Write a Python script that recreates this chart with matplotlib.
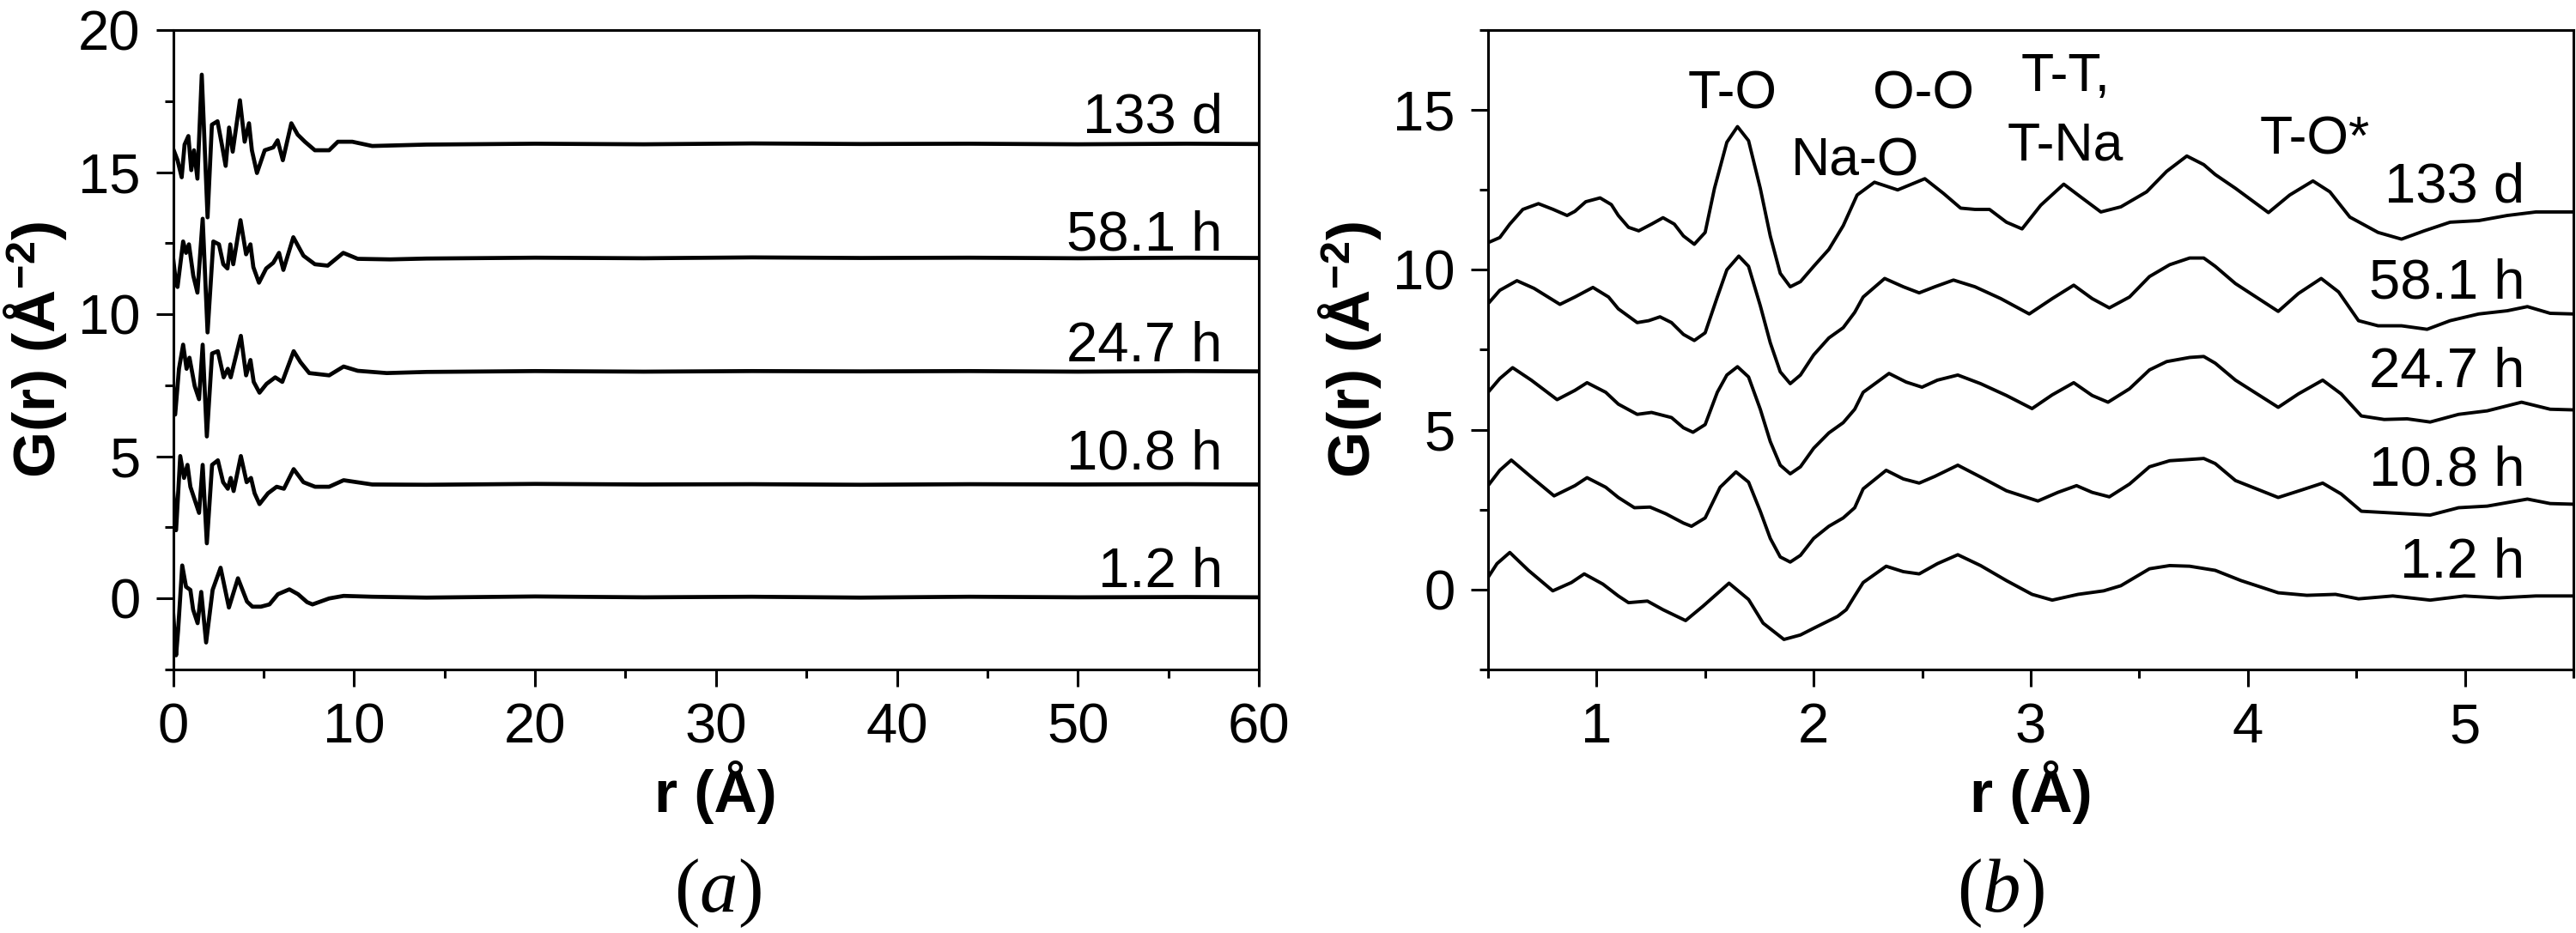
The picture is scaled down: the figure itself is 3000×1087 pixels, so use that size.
import matplotlib
matplotlib.use('Agg')
import matplotlib.pyplot as plt
from matplotlib.ticker import MultipleLocator

# PDF panels: (a) full range G(r), (b) short range with peak assignments.

plt.rcParams['font.family'] = 'Liberation Sans'
plt.rcParams['mathtext.fontset'] = 'custom'
plt.rcParams['mathtext.rm'] = 'Liberation Serif'
plt.rcParams['mathtext.it'] = 'Liberation Serif:italic'
plt.rcParams['mathtext.bf'] = 'Liberation Sans:bold'

labels = ['1.2 h', '10.8 h', '24.7 h', '58.1 h', '133 d']

################################################################################
# Panel (a) data, already offset by 4 per curve.

a_r_12h = [0, 0.16, 0.27, 0.5, 0.71, 0.95, 1.1, 1.35, 1.55, 1.82, 2.18, 2.62, 3.08,
           3.58, 4.08, 4.38, 4.85, 5.32, 5.79, 6.42, 6.9, 7.4, 7.7, 8.62, 9.42, 11.0,
           14, 20, 26, 32, 38, 44, 50, 56, 60]
a_g_12h = [-0.52, -2.0, -1.14, 1.16, 0.41, 0.3, -0.39, -0.87, 0.23, -1.55, 0.3, 1.08, -0.32,
           0.71, -0.11, -0.29, -0.29, -0.21, 0.15, 0.32, 0.15, -0.13, -0.21, 0.0, 0.09, 0.06,
           0.03, 0.07, 0.04, 0.06, 0.03, 0.06, 0.04, 0.05, 0.04]

a_r_108h = [0, 0.16, 0.39, 0.6, 0.79, 0.95, 1.19, 1.43, 1.63, 1.86, 2.15, 2.47, 2.76,
            3.02, 3.18, 3.34, 3.74, 4.06, 4.3, 4.5, 4.77, 5.24, 5.72, 6.12, 6.66, 7.2,
            7.84, 8.62, 9.42, 11.0, 14, 20, 26, 32, 38, 44, 50, 56, 60]
a_g_108h = [3.78, 2.40, 5.01, 4.24, 4.70, 3.93, 3.47, 3.01, 4.70, 1.94, 4.70, 4.86, 4.09,
            3.86, 4.24, 3.78, 5.01, 4.09, 4.24, 3.70, 3.32, 3.70, 3.93, 3.86, 4.55, 4.09,
            3.93, 3.93, 4.16, 4.01, 4.0, 4.03, 4.01, 4.02, 4.0, 4.02, 4.01, 4.02, 4.01]

a_r_247h = [0, 0.11, 0.32, 0.55, 0.74, 0.9, 1.19, 1.43, 1.63, 1.86, 2.15, 2.47, 2.79,
            3.02, 3.18, 3.74, 4.03, 4.27, 4.45, 4.77, 5.16, 5.64, 6.03, 6.66, 7.04, 7.52,
            8.62, 9.42, 10.2, 11.8, 14, 20, 26, 32, 38, 44, 50, 56, 60]
a_g_247h = [7.47, 6.47, 8.08, 8.93, 8.08, 8.47, 7.47, 7.01, 8.93, 5.70, 8.62, 8.70, 7.78,
            8.08, 7.78, 9.24, 7.85, 8.39, 7.62, 7.24, 7.55, 7.78, 7.62, 8.70, 8.31, 7.93,
            7.85, 8.16, 8.01, 7.93, 7.97, 8.0, 7.98, 8.0, 7.99, 8.0, 7.98, 8.0, 7.99]

a_r_581h = [0, 0.16, 0.24, 0.55, 0.71, 0.87, 1.11, 1.34, 1.63, 1.9, 2.22, 2.53, 2.77,
            3.0, 3.16, 3.32, 3.72, 4.03, 4.27, 4.43, 4.74, 5.14, 5.53, 5.85, 6.09, 6.64,
            7.2, 7.83, 8.54, 9.4, 10.2, 12, 14, 20, 26, 32, 38, 44, 50, 56, 60]
a_g_581h = [11.96, 11.06, 10.96, 12.56, 12.16, 12.46, 11.36, 10.76, 13.36, 9.36, 12.56, 12.46, 11.76,
            11.61, 12.46, 11.76, 13.31, 12.11, 12.46, 11.66, 11.11, 11.61, 11.81, 12.16, 11.56, 12.71,
            12.06, 11.76, 11.71, 12.16, 11.95, 11.93, 11.96, 11.99, 11.97, 12.0, 11.98, 11.99, 11.97, 11.99, 11.98]

a_r_133d = [0, 0.24, 0.47, 0.63, 0.84, 1.0, 1.15, 1.34, 1.58, 1.9, 2.14, 2.45, 2.69,
            2.9, 3.09, 3.29, 3.69, 3.95, 4.19, 4.35, 4.63, 5.06, 5.53, 5.77, 6.06, 6.53,
            6.88, 7.28, 7.83, 8.62, 9.1, 9.9, 11.0, 14, 20, 26, 32, 38, 44, 50, 56, 60]
a_g_133d = [15.82, 15.42, 14.82, 15.97, 16.27, 15.07, 15.77, 14.77, 18.43, 13.41, 16.67, 16.79, 15.97,
            15.22, 16.57, 15.72, 17.53, 16.07, 16.72, 15.77, 14.97, 15.77, 15.87, 16.12, 15.42, 16.72,
            16.32, 16.07, 15.77, 15.77, 16.07, 16.07, 15.92, 15.97, 16.0, 15.98, 16.01, 15.99, 16.0, 15.98, 16.0, 15.99]

a_text_y = [0.39, 4.55, 8.34, 12.26, 16.4]

################################################################################
# Panel (b) data, offset by 3 per curve.

b_r_12h = [0.5, 0.541, 0.6, 0.686, 0.798, 0.884, 0.943, 1.029, 1.1, 1.147, 1.234, 1.306,
           1.41, 1.49, 1.61, 1.7, 1.767, 1.863, 1.939, 2.0, 2.11, 2.15, 2.189, 2.228,
           2.334, 2.413, 2.486, 2.57, 2.664, 2.769, 2.888, 3.006, 3.099, 3.218, 3.336,
           3.415, 3.547, 3.64, 3.732, 3.85, 3.969, 4.14, 4.272, 4.404, 4.51, 4.668,
           4.84, 4.998, 5.156, 5.327, 5.499]
b_g_12h = [0.38, 0.81, 1.16, 0.60, -0.04, 0.22, 0.49, 0.17, -0.20, -0.41, -0.36, -0.63,
           -0.97, -0.52, 0.20, -0.31, -1.05, -1.56, -1.42, -1.21, -0.84, -0.63, -0.20, 0.22,
           0.73, 0.56, 0.49, 0.81, 1.09, 0.75, 0.28, -0.15, -0.33, -0.15, -0.04,
           0.12, 0.65, 0.75, 0.73, 0.60, 0.28, -0.10, -0.18, -0.15, -0.29, -0.20,
           -0.33, -0.20, -0.26, -0.20, -0.20]

b_r_108h = [0.5, 0.554, 0.607, 0.699, 0.804, 0.9, 0.956, 1.042, 1.1, 1.174, 1.246, 1.319,
            1.4, 1.437, 1.5, 1.569, 1.642, 1.7, 1.754, 1.8, 1.846, 1.892, 1.939, 2.0,
            2.07, 2.136, 2.189, 2.228, 2.334, 2.413, 2.486, 2.558, 2.664, 2.769, 2.888,
            3.033, 3.125, 3.211, 3.283, 3.362, 3.455, 3.547, 3.64, 3.732, 3.797, 3.85,
            3.943, 4.14, 4.246, 4.345, 4.43, 4.523, 4.655, 4.84, 4.971, 5.103, 5.288,
            5.393, 5.499]
b_g_108h = [3.25, 3.73, 4.05, 3.52, 2.93, 3.25, 3.50, 3.20, 2.88, 2.56, 2.58, 2.37,
            2.08, 1.98, 2.24, 3.20, 3.68, 3.36, 2.45, 1.60, 1.02, 0.86, 1.07, 1.60,
            1.98, 2.24, 2.56, 3.15, 3.73, 3.46, 3.33, 3.54, 3.89, 3.52, 3.09,
            2.77, 3.04, 3.25, 3.04, 2.90, 3.30, 3.84, 4.03, 4.07, 4.10, 3.94,
            3.41, 2.88, 3.11, 3.33, 2.99, 2.45, 2.40, 2.33, 2.56, 2.61, 2.83,
            2.69, 2.67]

b_r_247h = [0.5, 0.554, 0.613, 0.699, 0.818, 0.9, 0.956, 1.042, 1.1, 1.187, 1.253, 1.345,
            1.4, 1.444, 1.5, 1.556, 1.6, 1.649, 1.7, 1.754, 1.8, 1.846, 1.892, 1.939,
            2.0, 2.07, 2.136, 2.189, 2.228, 2.347, 2.426, 2.499, 2.57, 2.664, 2.769,
            2.888, 3.006, 3.099, 3.198, 3.283, 3.356, 3.455, 3.547, 3.626, 3.732, 3.797,
            3.85, 3.943, 4.14, 4.233, 4.345, 4.43, 4.523, 4.628, 4.734, 4.84, 4.971,
            5.103, 5.261, 5.393, 5.499]
b_g_247h = [6.17, 6.60, 6.94, 6.55, 5.94, 6.23, 6.47, 6.17, 5.80, 5.48, 5.54, 5.38,
            5.06, 4.92, 5.16, 6.17, 6.71, 6.97, 6.65, 5.64, 4.63, 3.89, 3.62, 3.84,
            4.42, 4.90, 5.22, 5.64, 6.17, 6.76, 6.49, 6.33, 6.55, 6.71, 6.44,
            6.07, 5.66, 6.09, 6.47, 6.07, 5.86, 6.28, 6.87, 7.13, 7.26, 7.29,
            7.08, 6.55, 5.70, 6.12, 6.55, 6.12, 5.43, 5.32, 5.34, 5.24, 5.48,
            5.59, 5.86, 5.64, 5.62]

b_r_581h = [0.5, 0.554, 0.633, 0.712, 0.831, 0.9, 0.983, 1.055, 1.1, 1.187, 1.24, 1.292,
            1.345, 1.4, 1.45, 1.5, 1.556, 1.6, 1.655, 1.7, 1.754, 1.8, 1.846, 1.892,
            1.939, 2.0, 2.07, 2.136, 2.189, 2.228, 2.327, 2.413, 2.486, 2.558, 2.644,
            2.743, 2.862, 2.993, 3.099, 3.198, 3.283, 3.362, 3.455, 3.547, 3.64, 3.732,
            3.797, 3.85, 3.943, 4.14, 4.233, 4.338, 4.418, 4.51, 4.6, 4.708, 4.826,
            4.932, 5.064, 5.195, 5.288, 5.393, 5.499]
b_g_581h = [8.94, 9.36, 9.66, 9.42, 8.92, 9.15, 9.45, 9.15, 8.78, 8.35, 8.41, 8.53,
            8.35, 7.98, 7.79, 8.03, 9.15, 10.0, 10.43, 10.11, 8.88, 7.72, 6.81, 6.44,
            6.71, 7.34, 7.87, 8.19, 8.67, 9.15, 9.73, 9.47, 9.28, 9.47, 9.68,
            9.47, 9.10, 8.62, 9.10, 9.52, 9.10, 8.81, 9.15, 9.79, 10.16, 10.37,
            10.37, 10.11, 9.57, 8.70, 9.26, 9.73, 9.31, 8.41, 8.25, 8.25, 8.14,
            8.41, 8.62, 8.72, 8.85, 8.64, 8.62]

b_r_133d = [0.5, 0.554, 0.6, 0.66, 0.732, 0.8, 0.864, 0.9, 0.95, 1.016, 1.068, 1.1,
            1.147, 1.194, 1.253, 1.306, 1.358, 1.4, 1.45, 1.5, 1.543, 1.6, 1.649, 1.7,
            1.754, 1.8, 1.846, 1.892, 1.939, 2.0, 2.07, 2.136, 2.2, 2.28, 2.387,
            2.512, 2.598, 2.677, 2.743, 2.81, 2.888, 2.96, 3.046, 3.152, 3.23, 3.323,
            3.415, 3.534, 3.626, 3.719, 3.797, 3.85, 3.943, 4.095, 4.193, 4.3, 4.378,
            4.47, 4.6, 4.708, 4.813, 4.932, 5.064, 5.195, 5.327, 5.499]
b_g_133d = [10.85, 11.01, 11.43, 11.89, 12.07, 11.89, 11.70, 11.83, 12.13, 12.25, 12.04, 11.70,
            11.33, 11.22, 11.43, 11.63, 11.43, 11.06, 10.80, 11.17, 12.55, 13.99, 14.48, 14.04,
            12.55, 11.06, 9.89, 9.47, 9.63, 10.11, 10.64, 11.38, 12.34, 12.74, 12.50,
            12.85, 12.39, 11.93, 11.89, 11.89, 11.49, 11.28, 12.02, 12.68, 12.28, 11.81,
            11.97, 12.44, 13.08, 13.56, 13.29, 12.98, 12.55, 11.79, 12.34, 12.78, 12.44,
            11.65, 11.17, 10.96, 11.22, 11.49, 11.54, 11.70, 11.81, 11.81]

b_text_y = [0.38, 3.25, 6.34, 9.1, 12.12]

peak_names = ['T-O', 'Na-O', 'O-O', 'T-T,', 'T-Na', 'T-O*']
peak_x = [1.627, 2.19, 2.505, 3.16, 3.16, 4.31]
peak_y = [15.05, 12.96, 15.05, 15.59, 13.43, 13.62]

################################################################################

fig = plt.figure(figsize=(30, 10.87), dpi=100)
ax1 = fig.add_axes([0.06723, 0.28243, 0.42143, 0.68537])
ax2 = fig.add_axes([0.57767, 0.28243, 0.42133, 0.68537])

curves_a = [(a_r_12h, a_g_12h), (a_r_108h, a_g_108h), (a_r_247h, a_g_247h),
            (a_r_581h, a_g_581h), (a_r_133d, a_g_133d)]
curves_b = [(b_r_12h, b_g_12h), (b_r_108h, b_g_108h), (b_r_247h, b_g_247h),
            (b_r_581h, b_g_581h), (b_r_133d, b_g_133d)]

for (r, g), lab, ty in zip(curves_a, labels, a_text_y):
    ax1.plot(r, g, color='black', lw=3.4, solid_joinstyle='round')
    ax1.text(58, ty, lab, ha='right', va='baseline', fontsize=47)

for (r, g), lab, ty in zip(curves_b, labels, b_text_y):
    ax2.plot(r, g, color='black', lw=2.8, solid_joinstyle='round')
    ax2.text(5.275, ty, lab, ha='right', va='baseline', fontsize=47)

for name, px, py in zip(peak_names, peak_x, peak_y):
    ax2.text(px, py, name, ha='center', va='baseline', fontsize=45)

ax1.set_xlim(0, 60)
ax1.set_ylim(-2.5, 20)
ax1.xaxis.set_major_locator(MultipleLocator(10))
ax1.xaxis.set_minor_locator(MultipleLocator(5))
ax1.yaxis.set_major_locator(MultipleLocator(5))
ax1.yaxis.set_minor_locator(MultipleLocator(2.5))

ax2.set_xlim(0.5, 5.5)
ax2.set_ylim(-2.5, 17.5)
ax2.xaxis.set_major_locator(MultipleLocator(1))
ax2.xaxis.set_minor_locator(MultipleLocator(0.5))
ax2.yaxis.set_major_locator(MultipleLocator(5))
ax2.yaxis.set_minor_locator(MultipleLocator(2.5))

for ax in (ax1, ax2):
    for s in ax.spines.values():
        s.set_linewidth(2.2)
    ax.tick_params(which='both', direction='out', width=2.2, top=False, right=False)
    ax.tick_params(which='major', length=14.4, labelsize=47, pad=13)
    ax.tick_params(which='minor', length=7.2)
    ax.set_xlabel('r (Å)', fontsize=50, fontweight='bold', labelpad=6)
    ax.set_ylabel(r'G(r) (Å$^{\mathbf{-2}}$)', fontsize=50, fontweight='bold', labelpad=8)

fig.text(0.2787, 0.043, r'$\mathrm{(}\mathit{a}\mathrm{)}$', ha='center', va='center', fontsize=64)
fig.text(0.7767, 0.043, r'$\mathrm{(}\mathit{b}\mathrm{)}$', ha='center', va='center', fontsize=64)

fig.savefig('out.png', dpi=100, facecolor='white')
